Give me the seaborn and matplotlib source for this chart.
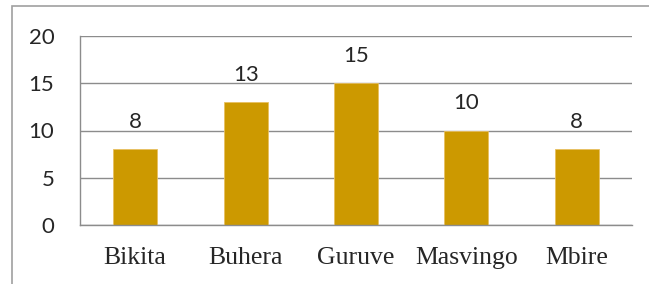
import matplotlib
matplotlib.use("Agg")
import matplotlib.pyplot as plt
from matplotlib.patches import Rectangle
from matplotlib.ticker import FixedLocator
import pandas as pd
import seaborn as sns

# data
districts = ["Bikita", "Buhera", "Guruve", "Masvingo", "Mbire"]
counts = [8, 13, 15, 10, 8]
y_ticks = [0, 5, 10, 15, 20]

BAR_COLOR = "#CC9900"
GRID_COLOR = "#8C8C8C"

df = pd.DataFrame({"District": districts, "Count": counts})

sns.set_style("white")
fig = plt.figure(figsize=(6.49, 2.84), dpi=100)
ax = fig.add_axes([80 / 649, 1 - 225 / 284, 552 / 649, 189 / 284])

sns.barplot(data=df, x="District", y="Count", color=BAR_COLOR, width=0.4,
            saturation=1, ax=ax, edgecolor="#E8C060", linewidth=0.6)

ax.set_ylim(0, 20)
ax.set_xlim(-0.5, len(districts) - 0.5)
ax.set_yticks(y_ticks)
ax.set_yticklabels([str(t) for t in y_ticks], family="Lato", fontsize=16)
ax.yaxis.grid(True, color=GRID_COLOR, linewidth=1)
ax.set_axisbelow(True)
ax.set_xlabel("")
ax.set_ylabel("")

# category labels in serif, ticks at category boundaries
ax.set_xticks(range(len(districts)))
ax.set_xticklabels(districts, family="Liberation Serif", fontsize=18.5)
ax.tick_params(axis="x", which="major", length=0, pad=16)
ax.xaxis.set_minor_locator(FixedLocator([i - 0.5 for i in range(len(districts) + 1)]))
ax.tick_params(axis="x", which="minor", length=5, width=1, color=GRID_COLOR, direction="out")
ax.tick_params(axis="y", length=5.5, width=1, color=GRID_COLOR, pad=13, direction="out")

for side in ["top", "right"]:
    ax.spines[side].set_visible(False)
for side in ["left", "bottom"]:
    ax.spines[side].set_color(GRID_COLOR)
    ax.spines[side].set_linewidth(1)

for i, v in enumerate(counts):
    ax.annotate(str(v), (i, v), xytext=(0, 19.5), textcoords="offset points",
                ha="center", va="center", family="Lato", fontsize=16)

# outer chart frame (only top and left edges visible in the crop)
fig.add_artist(Rectangle((12 / 649, -0.1), 1.2, 1 - 6 / 284 + 0.1,
                         transform=fig.transFigure, fill=False,
                         edgecolor="#A0A0A0", linewidth=1.2, clip_on=False))

plt.savefig("out.png", dpi=100)
